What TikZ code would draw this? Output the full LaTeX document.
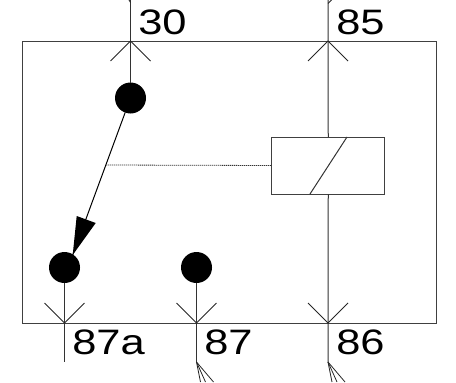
\documentclass[tikz,border=0pt]{standalone}
\usepackage{fontspec}
\setmainfont[FakeStretch=1.23]{Liberation Sans}
\usetikzlibrary{calc}
\tikzset{
  x=0.75pt,y=-0.75pt,
  wire/.style={line width=0.75pt,black!80},
  boxline/.style={line width=0.75pt,black!75},
  dot/.style={circle,fill=black,draw=none,minimum size=23.25pt,inner sep=0pt,outer sep=0pt},
  pinlabel/.style={anchor=base west,inner sep=0pt,font=\fontsize{26.5pt}{26.5pt}\selectfont},
  barb/.style={line width=0.6pt,black!85},
  contactline/.style={line width=0.75pt,black}
}
\begin{document}
\begin{tikzpicture}
\useasboundingbox (0,0) rectangle (456,382);
\coordinate (BL) at (22,323);
\coordinate (TR) at (436,41);
\draw[boxline] (BL) rectangle (TR);
% contacts
\node[dot] (c30) at (130.5,98) {};
\node[dot] (c87a) at (64.5,267.5) {};
\node[dot] (c87) at (196.5,267.5) {};
% coil
\node[draw,boxline,minimum width=85pt,minimum height=42.75pt,inner sep=0pt,outer sep=0pt] (coil) at (328.25,165.5) {};
% pin junctions
\coordinate (p30) at (130.5,41);
\coordinate (p85) at (328,41);
\coordinate (p87a) at (64.5,323);
\coordinate (p87) at (196.5,323);
\coordinate (p86) at (328,323);
\coordinate (t30) at (130.5,0);
\coordinate (t85) at (328,0);
\coordinate (e87a) at (64.5,362);
\coordinate (e87) at (196.5,362);
\coordinate (e86) at (328,362);
% wires
\draw[wire] (t30) -- (c30);
\draw[wire] (t85) -- (coil.north);
\draw[wire] (coil.south) -- (e86);
\draw[wire] (c87a) -- (e87a);
\draw[wire] (c87) -- (e87);
% barbs
\foreach \p in {p30,p85}{
  \draw[barb] ($(\p)+(-20,20)$) -- (\p) -- ($(\p)+(20,20)$);
}
\foreach \p in {p87a,p87,p86}{
  \draw[barb] ($(\p)+(-20,-20)$) -- (\p) -- ($(\p)+(20,-20)$);
}
% clipped heads at the top edge
\draw[barb] ($(t30)+(0,2.5)$) -- ($(t30)+(-1.5,0)$);
\draw[barb] ($(t85)+(0,3.5)$) -- ($(t85)+(3.5,0)$);
% bottom tails
\foreach \e in {e87,e86}{
  \draw[barb] (\e) -- ($(\e)+(4,20)$);
  \draw[barb] (\e) -- ($(\e)+(9,20)$);
  \draw[barb] (\e) -- ($(\e)+(17,20)$);
}
% coil slash
\draw[wire] (347,137) -- (310,194);
% moving contact
\coordinate (tip) at (72.7,255);
\draw[contactline] (c30) -- (tip);
\fill[black] (tip) -- (76.7,216) -- (95.7,223) -- cycle;
% dotted link
\coordinate (lk) at (106,165);
\draw[line width=0.6pt,dash pattern=on 1pt off 0.5pt,black!80] (lk) -- (coil.west);
% labels
\node[pinlabel] (l30) at (138,34) {30};
\node[pinlabel] (l85) at (336,34) {85};
\node[pinlabel] (l87a) at (72,354) {87a};
\node[pinlabel] (l87) at (204,354) {87};
\node[pinlabel] (l86) at (336,354) {86};
\end{tikzpicture}
\end{document}
